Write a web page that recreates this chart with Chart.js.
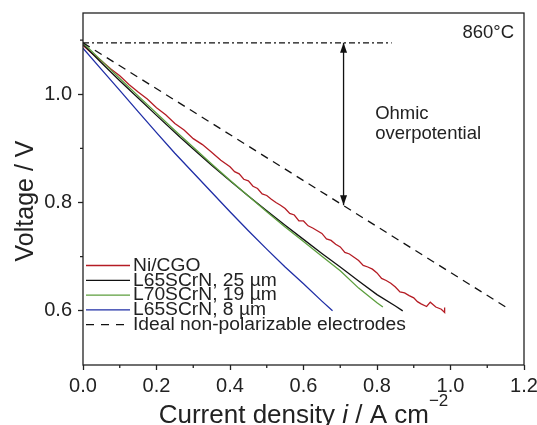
<!DOCTYPE html>
<html>
<head>
<meta charset="utf-8">
<script src="https://cdn.jsdelivr.net/npm/chart.js@4.4.1/dist/chart.umd.min.js"></script>
<style>
  body { margin: 0; background: #fff; }
  canvas { display: block; }
</style>
</head>
<body>
<canvas id="iv-chart" width="537" height="425"></canvas>
<script>
var FONT = '"Liberation Sans", Arial, sans-serif';
var INK = "#222222";

// Axis ticks
var xTicks = [0, 0.2, 0.4, 0.6, 0.8, 1.0, 1.2];
var xMinor = [0.1, 0.3, 0.5, 0.7, 0.9, 1.1];
var yTicks = [0.6, 0.8, 1.0];
var yMinor = [0.7, 0.9, 1.1];

// Legend labels
var seriesLabels = [
  "Ni/CGO",
  "L65SCrN, 25 µm",
  "L70SCrN, 19 µm",
  "L65SCrN, 8 µm",
  "Ideal non-polarizable electrodes",
];
var seriesColors = ["#b51c24", "#111111", "#5c9e3d", "#1f2ea6", "#111111"];

// Ni/CGO (noisy curve)
var niCurrent = [0, 0.025, 0.05, 0.075, 0.1, 0.125, 0.15, 0.175, 0.2, 0.225, 0.25, 0.275, 0.3, 0.325, 0.35, 0.375,
  0.4, 0.4125, 0.425, 0.4375, 0.45, 0.4625, 0.475, 0.4875, 0.5, 0.5125, 0.525, 0.5375, 0.55, 0.5625, 0.575, 0.5875,
  0.6, 0.6125, 0.625, 0.6375, 0.65, 0.6625, 0.675, 0.6875, 0.7, 0.7125, 0.725, 0.7375, 0.75, 0.7625, 0.775, 0.7875,
  0.8, 0.8125, 0.825, 0.8375, 0.85, 0.8625, 0.875, 0.8875, 0.9, 0.91, 0.92, 0.935, 0.945, 0.96, 0.975, 0.984, 0.984];
var niVoltage = [1.09, 1.075, 1.062, 1.047, 1.034, 1.018, 1.004, 0.991, 0.975, 0.962, 0.946, 0.934, 0.918, 0.907, 0.893, 0.878,
  0.866, 0.857, 0.853, 0.843, 0.84, 0.83, 0.826, 0.816, 0.813, 0.806, 0.8, 0.795, 0.789, 0.78, 0.777, 0.766,
  0.766, 0.757, 0.753, 0.748, 0.743, 0.733, 0.73, 0.723, 0.718, 0.708, 0.705, 0.699, 0.693, 0.684, 0.681, 0.677,
  0.67, 0.66, 0.656, 0.651, 0.644, 0.635, 0.633, 0.628, 0.624, 0.617, 0.613, 0.608, 0.616, 0.607, 0.603, 0.597, 0.606];

// L65SCrN, 25 um
var l65Current = [0, 0.05, 0.1, 0.15, 0.2, 0.265, 0.3, 0.35, 0.4, 0.45, 0.5, 0.55, 0.6, 0.65, 0.7, 0.75, 0.8, 0.85, 0.87];
var l65Voltage = [1.092, 1.058, 1.025, 0.993, 0.961, 0.92, 0.899, 0.869, 0.84, 0.812, 0.785, 0.758, 0.732, 0.706, 0.681, 0.655, 0.63, 0.609, 0.6];

// L70SCrN, 19 um
var l70Current = [0, 0.05, 0.1, 0.15, 0.2, 0.25, 0.3, 0.35, 0.4, 0.45, 0.5, 0.55, 0.6, 0.65, 0.7, 0.75, 0.8, 0.816];
var l70Voltage = [1.095, 1.062, 1.029, 0.997, 0.965, 0.933, 0.902, 0.871, 0.841, 0.812, 0.783, 0.755, 0.728, 0.701, 0.674, 0.642, 0.615, 0.607];

// L65SCrN, 8 um
var thinCurrent = [0, 0.05, 0.1, 0.15, 0.2, 0.25, 0.3, 0.35, 0.4, 0.45, 0.5, 0.55, 0.6, 0.65, 0.679];
var thinVoltage = [1.085, 1.046, 1.007, 0.968, 0.929, 0.891, 0.855, 0.819, 0.783, 0.748, 0.714, 0.681, 0.65, 0.618, 0.6];

// Ideal electrodes, OCV line and ohmic arrow
var idealCurrent = [0, 1.16];
var idealVoltage = [1.095, 0.603];
var ocvCurrent = [0, 0.84];
var ocvVoltage = [1.095, 1.095];
var arrowCurrent = [0.709, 0.709];
var arrowVoltage = [1.095, 0.795];

function toPoints(xs, ys) {
  return xs.map(function (x, i) {
    return { x: x, y: ys[i] };
  });
}

// Frame, minor ticks, arrow heads, notes, legend and axis titles
var extrasPlugin = {
  id: "extras",
  afterDraw: function (chart) {
    var ctx = chart.ctx;
    var area = chart.chartArea;
    var xs = chart.scales.x;
    var ys = chart.scales.y;
    ctx.save();

    ctx.strokeStyle = INK;
    ctx.lineWidth = 1.3;
    ctx.strokeRect(area.left, area.top, area.right - area.left, area.bottom - area.top);

    ctx.beginPath();
    xMinor.forEach(function (v) {
      var px = xs.getPixelForValue(v);
      ctx.moveTo(px, area.bottom);
      ctx.lineTo(px, area.bottom + 3);
    });
    yMinor.forEach(function (v) {
      var py = ys.getPixelForValue(v);
      ctx.moveTo(area.left - 3, py);
      ctx.lineTo(area.left, py);
    });
    ctx.stroke();

    // arrow heads
    var ax = xs.getPixelForValue(arrowCurrent[0]);
    var ayTop = ys.getPixelForValue(arrowVoltage[0]);
    var ayBot = ys.getPixelForValue(arrowVoltage[1]);
    ctx.fillStyle = "#111";
    ctx.beginPath();
    ctx.moveTo(ax, ayTop);
    ctx.lineTo(ax - 3.5, ayTop + 10);
    ctx.lineTo(ax + 3.5, ayTop + 10);
    ctx.closePath();
    ctx.fill();
    ctx.beginPath();
    ctx.moveTo(ax, ayBot);
    ctx.lineTo(ax - 3.5, ayBot - 10);
    ctx.lineTo(ax + 3.5, ayBot - 10);
    ctx.closePath();
    ctx.fill();

    // notes
    ctx.fillStyle = INK;
    ctx.font = "18.5px " + FONT;
    ctx.textBaseline = "alphabetic";
    ctx.textAlign = "right";
    ctx.fillText("860°C", area.right - 10, area.top + 25);
    ctx.textAlign = "left";
    ctx.fillText("Ohmic", xs.getPixelForValue(0.795), ys.getPixelForValue(0.954));
    ctx.fillText("overpotential", xs.getPixelForValue(0.795), ys.getPixelForValue(0.918));

    // legend
    seriesLabels.forEach(function (label, i) {
      var rowY = 265.5 + i * 14.8;
      ctx.strokeStyle = seriesColors[i];
      ctx.lineWidth = 1.3;
      ctx.setLineDash(i === 4 ? [8, 7] : []);
      ctx.beginPath();
      ctx.moveTo(area.left + 3, rowY);
      ctx.lineTo(area.left + 47, rowY);
      ctx.stroke();
      ctx.setLineDash([]);
      ctx.save();
      ctx.translate(area.left + 50, rowY + 0.5);
      ctx.scale(1.1, 1);
      ctx.font = "17.5px " + FONT;
      ctx.textBaseline = "middle";
      ctx.fillStyle = INK;
      ctx.fillText(label, 0, 0);
      ctx.restore();
    });

    // y title
    ctx.save();
    ctx.translate(33, 201);
    ctx.rotate(-Math.PI / 2);
    ctx.textAlign = "center";
    ctx.textBaseline = "alphabetic";
    ctx.font = "25px " + FONT;
    ctx.fillText("Voltage / V", 0, 0);
    ctx.restore();

    // x title with italic i and superscript
    var parts = [
      { t: "Current density ", f: "26px " + FONT, dy: 0 },
      { t: "i", f: "italic 26px " + FONT, dy: 0 },
      { t: " / A cm", f: "26px " + FONT, dy: 0 },
      { t: "\u22122", f: "17px " + FONT, dy: -17 },
    ];
    var total = 0;
    parts.forEach(function (p) {
      ctx.font = p.f;
      p.w = ctx.measureText(p.t).width;
      total += p.w;
    });
    var tx = (area.left + area.right) / 2 - total / 2;
    ctx.textAlign = "left";
    ctx.textBaseline = "alphabetic";
    parts.forEach(function (p) {
      ctx.font = p.f;
      ctx.fillText(p.t, tx, 422.5 + p.dy);
      tx += p.w;
    });

    ctx.restore();
  },
};

function ivChart() {
  new Chart(document.getElementById("iv-chart"), {
    type: "line",
    data: {
      datasets: [
        {
          label: "ocv",
          data: toPoints(ocvCurrent, ocvVoltage),
          borderColor: "#111",
          borderWidth: 1.3,
          borderDash: [6, 3, 2, 3],
        },
        {
          label: seriesLabels[4],
          data: toPoints(idealCurrent, idealVoltage),
          borderColor: seriesColors[4],
          borderWidth: 1.3,
          borderDash: [8, 6],
        },
        {
          label: "arrow",
          data: toPoints(arrowCurrent, arrowVoltage),
          borderColor: "#111",
          borderWidth: 1.3,
        },
        {
          label: seriesLabels[3],
          data: toPoints(thinCurrent, thinVoltage),
          borderColor: seriesColors[3],
          borderWidth: 1.3,
        },
        {
          label: seriesLabels[2],
          data: toPoints(l70Current, l70Voltage),
          borderColor: seriesColors[2],
          borderWidth: 1.3,
        },
        {
          label: seriesLabels[1],
          data: toPoints(l65Current, l65Voltage),
          borderColor: seriesColors[1],
          borderWidth: 1.3,
        },
        {
          label: seriesLabels[0],
          data: toPoints(niCurrent, niVoltage),
          borderColor: seriesColors[0],
          borderWidth: 1.3,
        },
      ],
    },
    options: {
      responsive: false,
      animation: false,
      devicePixelRatio: 1,
      layout: { padding: { top: 13, right: 13, left: 0, bottom: 0 } },
      elements: {
        point: { radius: 0 },
        line: { tension: 0, fill: false },
      },
      plugins: {
        legend: { display: false },
        tooltip: { enabled: false },
      },
      scales: {
        x: {
          type: "linear",
          min: 0,
          max: 1.2,
          afterBuildTicks: function (scale) {
            scale.ticks = xTicks.map(function (v) {
              return { value: v };
            });
          },
          afterFit: function (scale) {
            scale.height = 60;
            scale.paddingLeft = 0;
            scale.paddingRight = 0;
          },
          grid: { drawOnChartArea: false, tickLength: 5, tickColor: INK, tickWidth: 1.3 },
          border: { display: false },
          ticks: {
            color: INK,
            autoSkip: false,
            maxRotation: 0,
            padding: 4,
            font: { family: FONT, size: 20 },
            callback: function (v) {
              return v.toFixed(1);
            },
          },
        },
        y: {
          type: "linear",
          min: 0.5,
          max: 1.15,
          afterBuildTicks: function (scale) {
            scale.ticks = yTicks.map(function (v) {
              return { value: v };
            });
          },
          afterFit: function (scale) {
            scale.width = 83;
            scale.paddingTop = 0;
            scale.paddingBottom = 0;
          },
          grid: { drawOnChartArea: false, tickLength: 5, tickColor: INK, tickWidth: 1.3 },
          border: { display: false },
          ticks: {
            color: INK,
            padding: 6,
            font: { family: FONT, size: 20 },
            callback: function (v) {
              return v.toFixed(1);
            },
          },
        },
      },
    },
    plugins: [extrasPlugin],
  });
}

document.addEventListener("DOMContentLoaded", function () {
  ivChart();
});
</script>
</body>
</html>
